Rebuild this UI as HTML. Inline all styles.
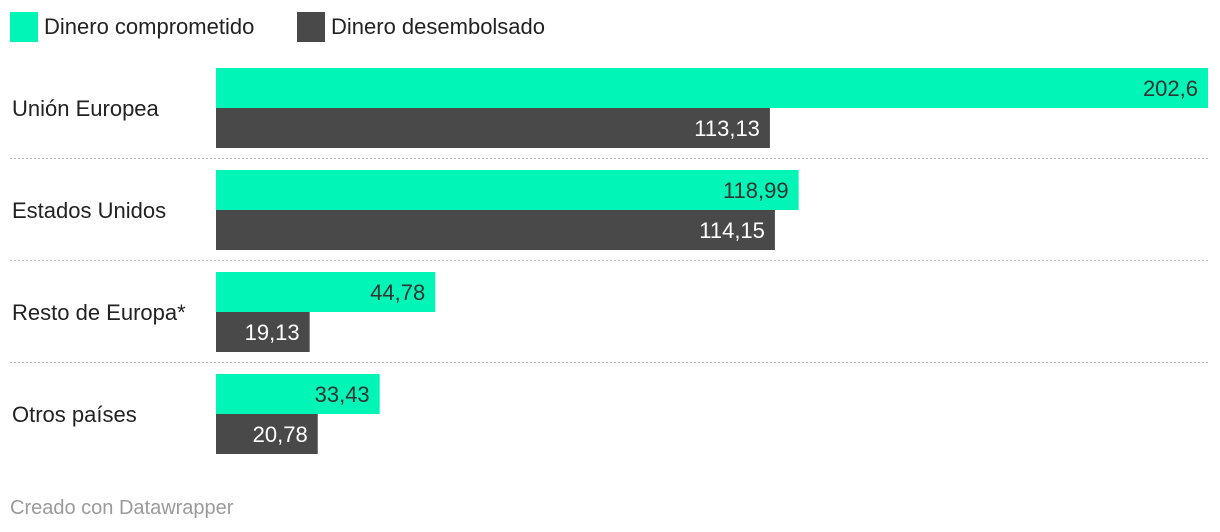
<!DOCTYPE html>
<html><head><meta charset="utf-8"><style>
body{margin:0;width:1220px;height:532px;background:#fff;font-family:"Liberation Sans",sans-serif;overflow:hidden}
</style></head><body>
<svg width="1220" height="532" style="display:block">
<g>
<rect x="10" y="12" width="28" height="30" fill="#00f5b6"/>
<text x="44" y="34" font-size="22" fill="#222">Dinero comprometido</text>
<rect x="297" y="12" width="28" height="30" fill="#494949"/>
<text x="331" y="34" font-size="22" fill="#222">Dinero desembolsado</text>
</g>
<g id="plot"></g>
<text x="10" y="514" font-size="20" fill="#9a9a9a">Creado con Datawrapper</text>
</svg>
<script>
const categories=["Unión Europea","Estados Unidos","Resto de Europa*","Otros países"];
const committed=[202.6,118.99,44.78,33.43];
const disbursed=[113.13,114.15,19.13,20.78];
const committedLabels=["202,6","118,99","44,78","33,43"];
const disbursedLabels=["113,13","114,15","19,13","20,78"];
const NS="http://www.w3.org/2000/svg";
const g=document.getElementById('plot');
const x0=216,x1=1208,maxV=Math.max(...committed,...disbursed);
const xs=v=>x0+(v/maxV)*(x1-x0);
const top0=68,pitch=102,bh=40;
function mk(t,a){const e=document.createElementNS(NS,t);for(const k in a)e.setAttribute(k,a[k]);g.appendChild(e);return e;}
categories.forEach((c,i)=>{
 const y=top0+i*pitch;
 const lab=mk('text',{x:12,y:y+bh+8,'font-size':22,fill:'#222'});lab.textContent=c;
 
 
 [[committed,committedLabels,'#00f5b6','#333','bar-committed'],[disbursed,disbursedLabels,'#494949','#fff','bar-disbursed']].forEach((s,j)=>{
  const yy=y+j*bh,w=xs(s[0][i])-x0;
  const r=mk('rect',{x:x0,y:yy,width:w,height:bh,fill:s[2]});
  
  
  const t=mk('text',{x:x0+w-10,y:yy+28,'font-size':22,fill:s[3],'text-anchor':'end'});t.textContent=s[1][i];
  
  
 });
 if(i<categories.length-1){
  const l=mk('line',{x1:10,x2:1208,y1:y+90.5,y2:y+90.5,stroke:'#bbb','stroke-dasharray':'2,2'});
  
  
 }
});
</script>
</body></html>
